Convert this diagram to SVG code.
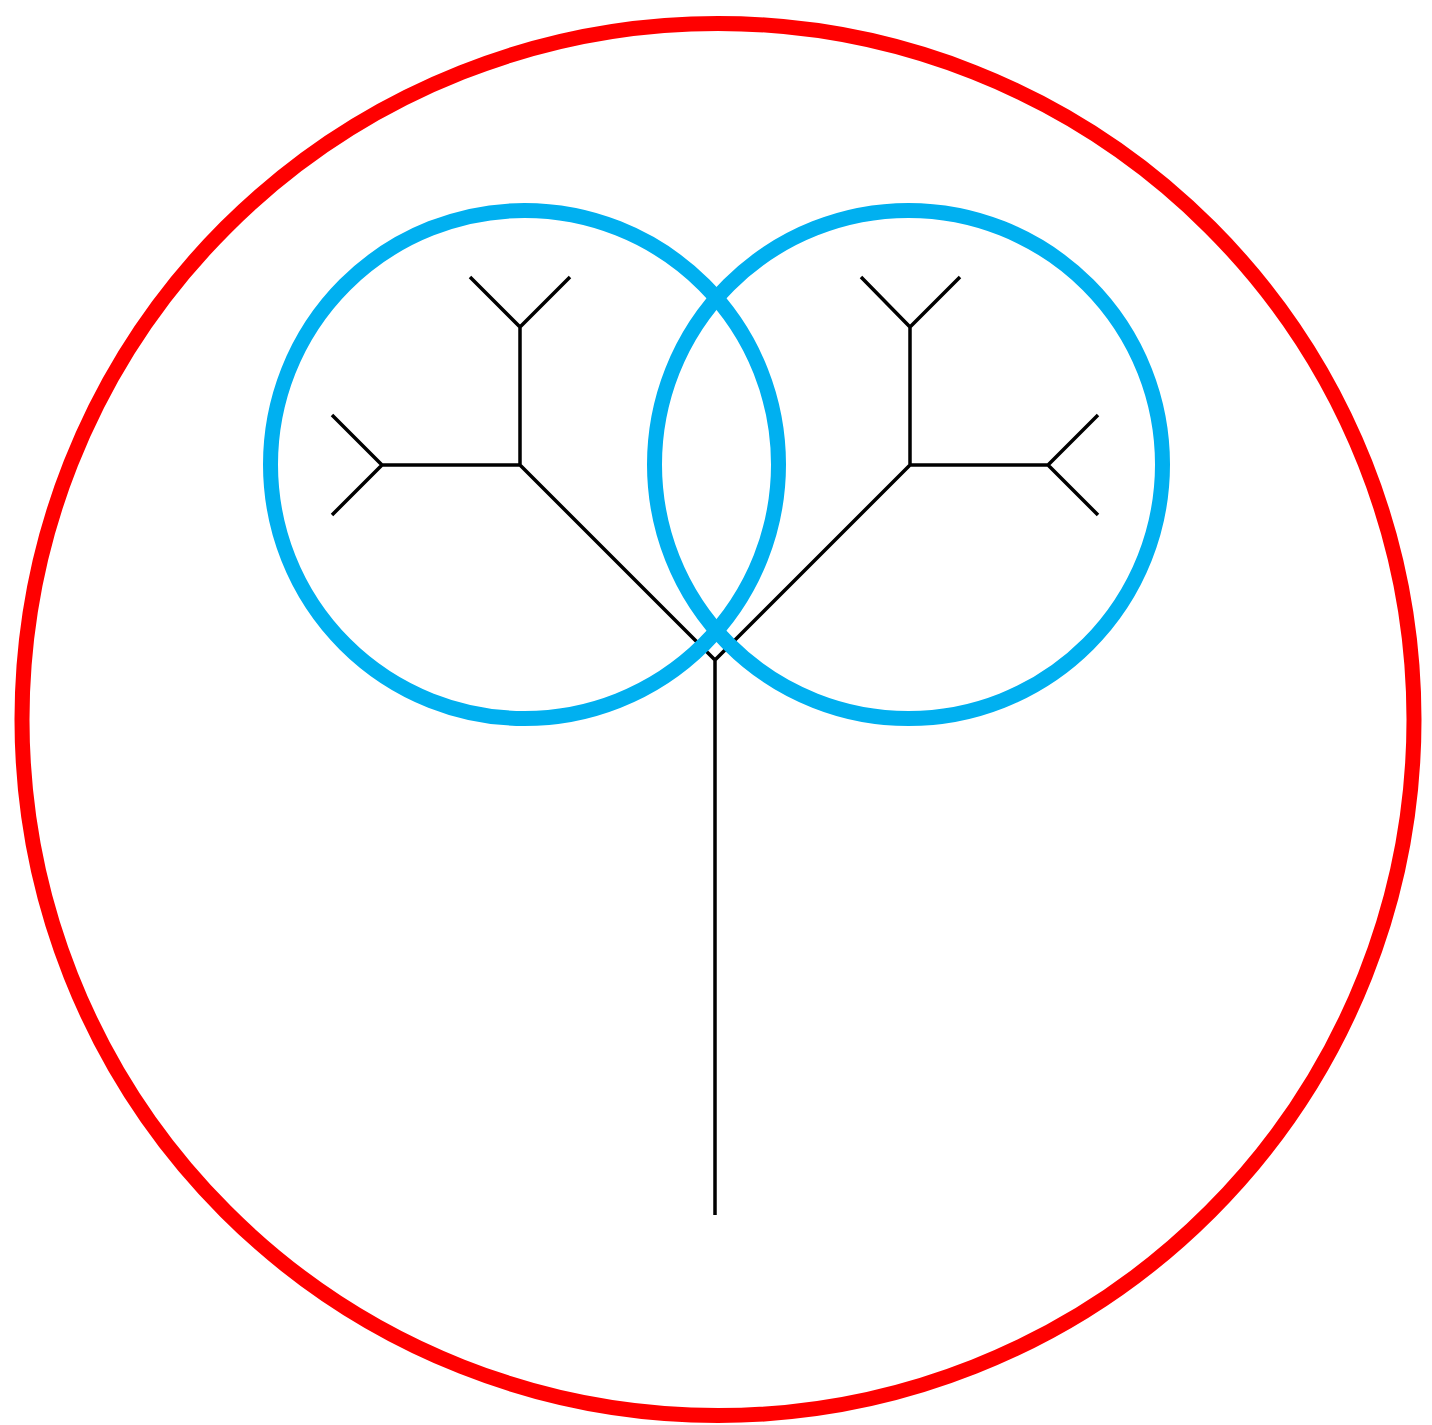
<svg xmlns="http://www.w3.org/2000/svg" width="1432" height="1425" viewBox="0 0 1432 1425">
<style>
.t{fill:none;stroke:#000;stroke-width:3.5}
.b{fill:none;stroke:#00b0f0;stroke-width:15}
.r{fill:none;stroke:#ff0000;stroke-width:15}
</style>
<rect width="1432" height="1425" fill="#fff"/>
<g id="connectors">
<path class="t" d="M715 1215V660M715 660L520 465M715 660L910 465M520 465V327M520 465H382M520 327L470 277M520 327L570 277M382 465L332 415M382 465L332 515M910 465V327M910 465H1048M910 327L861 277M910 327L960 277M1048 465L1098 415M1048 465L1098 515"/>
</g>
<g id="outer"><circle class="r" cx="718" cy="719.5" r="696"/></g>
<g id="left"><circle class="b" cx="524.5" cy="464.5" r="254"/></g>
<g id="right"><circle class="b" cx="908.5" cy="464.5" r="254"/></g>
</svg>
